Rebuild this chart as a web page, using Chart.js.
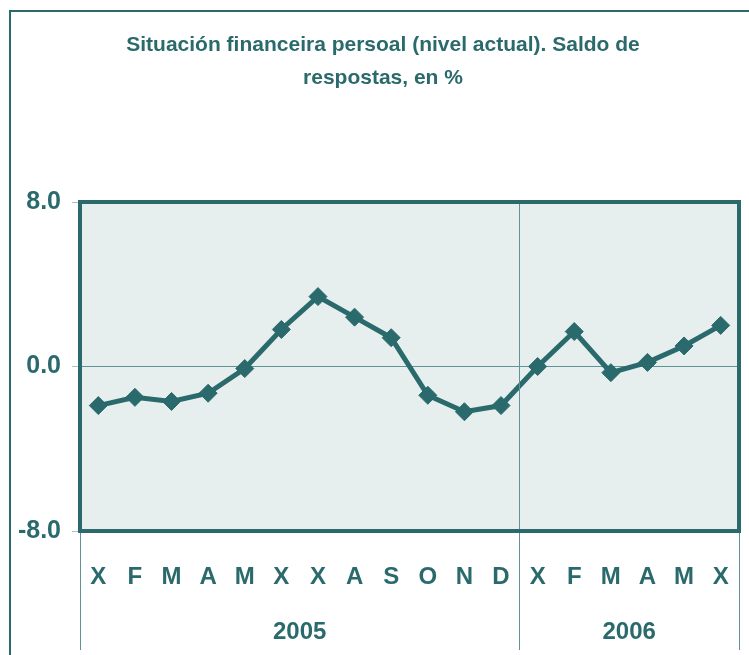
<!DOCTYPE html>
<html>
<head>
<meta charset="utf-8">
<script src="https://cdn.jsdelivr.net/npm/chart.js@4"></script>
<style>
  html, body { margin: 0; padding: 0; background: #ffffff; }
  #wrap { width: 749px; height: 655px; position: relative; }
</style>
</head>
<body>
<div id="wrap"><canvas id="saldoChart" width="749" height="655"></canvas></div>
<script>
/* ==============================
   DATA
============================== */
const months = ["X", "F", "M", "A", "M", "X", "X", "A", "S", "O", "N", "D", "X", "F", "M", "A", "M", "X"];
const saldo = [-1.9, -1.5, -1.7, -1.3, -0.1, 1.8, 3.4, 2.4, 1.4, -1.4, -2.2, -1.9, 0.0, 1.7, -0.3, 0.2, 1.0, 2.0];
const years = ["2005", "2006"];
const yearSpans = [12, 6]; // months per year group
const titleLines = ["Situación financeira persoal (nivel actual). Saldo de", "respostas, en %"];

const TEAL = "#2a6a6c";
const TEAL_LIGHT = "#5f9496";
const FONT = "'Liberation Sans', Arial, sans-serif";

/* ==============================
   DECOR PLUGIN (frame, plot bg, groups)
============================== */
const decor = {
  id: "decor",
  beforeDraw(chart) {
    const { ctx, chartArea: a } = chart;
    ctx.save();
    // plot background
    ctx.fillStyle = "#e6efee";
    ctx.fillRect(a.left, a.top, a.right - a.left, a.bottom - a.top);

    // outer frame (top + left only visible)
    ctx.strokeStyle = TEAL;
    ctx.lineWidth = 2;
    ctx.beginPath();
    ctx.moveTo(10, chart.height);
    ctx.lineTo(10, 11);
    ctx.lineTo(chart.width, 11);
    ctx.stroke();

    // title
    ctx.fillStyle = TEAL;
    ctx.font = "bold 21px " + FONT;
    ctx.textAlign = "center";
    ctx.textBaseline = "middle";
    ctx.fillText(titleLines[0], 383, 45);
    ctx.fillText(titleLines[1], 383, 78);
    ctx.restore();
  },
  afterDatasetsDraw(chart) {
    const { ctx, chartArea: a, scales } = chart;
    const x = scales.x;
    const half = (x.getPixelForValue(1) - x.getPixelForValue(0)) / 2;
    ctx.save();

    // year group separators + labels
    ctx.strokeStyle = TEAL_LIGHT;
    ctx.lineWidth = 1;
    let start = 0;
    const edges = [x.getPixelForValue(0) - half];
    years.forEach((yr, i) => {
      const end = start + yearSpans[i] - 1;
      const left = x.getPixelForValue(start) - half;
      const right = x.getPixelForValue(end) + half;
      edges.push(right);
      ctx.fillStyle = TEAL;
      ctx.font = "bold 24px " + FONT;
      ctx.textAlign = "center";
      ctx.textBaseline = "middle";
      ctx.fillText(yr, (left + right) / 2, 632);
      start = end + 1;
    });
    edges.forEach((ex, i) => {
      const px = Math.round(ex) + 0.5;
      ctx.beginPath();
      // inner separator runs through the plot
      const top = i > 0 && i < edges.length - 1 ? a.top : a.bottom;
      ctx.moveTo(px, top);
      ctx.lineTo(px, 650);
      ctx.stroke();
    });

    // thick plot border
    ctx.strokeStyle = TEAL;
    ctx.lineWidth = 4;
    ctx.strokeRect(a.left, a.top, a.right - a.left, a.bottom - a.top);
    ctx.restore();
  },
};

/* ==============================
   CHART
============================== */
new Chart(document.getElementById("saldoChart"), {
  type: "line",
  data: {
    labels: months,
    datasets: [
      {
        label: "Saldo",
        data: saldo,
        borderColor: TEAL,
        backgroundColor: TEAL,
        borderWidth: 5,
        pointStyle: "rectRot",
        pointRadius: 9,
        pointBorderWidth: 1,
        pointBackgroundColor: TEAL,
        tension: 0,
        clip: false,
      },
    ],
  },
  options: {
    responsive: false,
    animation: false,
    devicePixelRatio: 1,
    layout: {
      padding: { left: 0, right: 7, top: 202, bottom: 0 },
    },
    scales: {
      x: {
        offset: true,
        grid: {
          display: true,
          drawOnChartArea: false,
          drawTicks: true,
          tickLength: 29,
          tickColor: "transparent",
          color: "transparent",
        },
        border: { display: false },
        ticks: {
          color: TEAL,
          padding: 3,
          maxRotation: 0,
          autoSkip: false,
          font: { family: FONT, size: 24, weight: "bold" },
        },
        afterFit: (scale) => { scale.height = 124; },
      },
      y: {
        min: -8,
        max: 8,
        border: { display: false },
        grid: {
          color: (c) => (c.tick && c.tick.value === 0 ? TEAL_LIGHT : "transparent"),
          tickColor: "#a8c3c3",
          tickLength: 8,
          lineWidth: 1,
        },
        ticks: {
          stepSize: 8,
          padding: 11,
          color: TEAL,
          font: { family: FONT, size: 25, weight: "bold" },
          callback: (v) => v.toFixed(1),
        },
        afterFit: (scale) => { scale.width = 80; },
      },
    },
    plugins: {
      legend: { display: false },
      tooltip: { enabled: false },
    },
  },
  plugins: [decor],
});
</script>
</body>
</html>
